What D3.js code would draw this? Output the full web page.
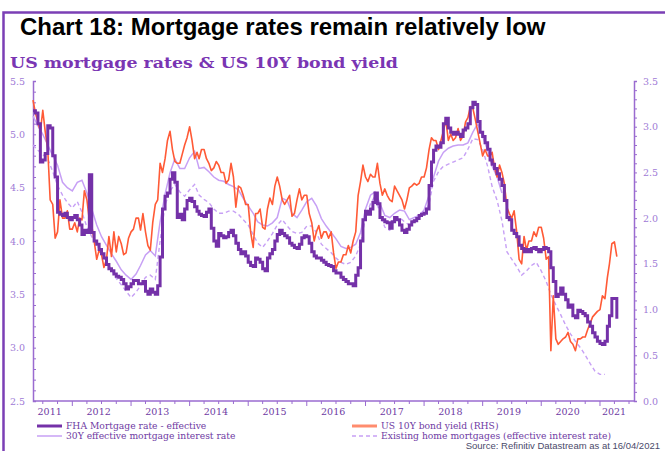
<!DOCTYPE html>
<html>
<head>
<meta charset="utf-8">
<script src="https://cdn.jsdelivr.net/npm/d3@7"></script>
<style>
  html, body { margin: 0; padding: 0; background: #fff; }
  svg { display: block; }
</style>
</head>
<body>
<svg id="chart" width="665" height="451"></svg>
<script>
// FHA effective mortgage rate, semi-monthly from 1 May 2011 (LHS, %)
const fhaRate = [
  5.22, 5.2, 5.1, 4.74, 4.76, 4.82, 5.08, 5.06, 4.8, 4.6, 4.27, 4.25, 4.24, 4.26, 4.22, 4.2,
  4.22, 4.24, 4.2, 4.15, 4.06, 4.1, 4.08, 4.62, 4.08, 4.0, 3.97, 3.92, 3.88, 3.84, 3.78, 3.74, 3.72, 3.69, 3.67, 3.66, 3.64, 3.6, 3.55, 3.57,
  3.6, 3.63, 3.63, 3.6, 3.6, 3.62, 3.53, 3.5, 3.55, 3.52, 3.5, 3.58, 3.85, 4.3, 4.42, 4.45, 4.58, 4.64, 4.55, 4.22, 4.25, 4.2, 4.3, 4.38,
  4.4, 4.37, 4.32, 4.28, 4.25, 4.24, 4.23, 4.27, 4.3, 4.12, 4.0, 3.95, 4.07, 4.05, 4.03, 4.04, 4.08, 4.1, 4.05, 3.98, 3.92, 3.88, 3.9, 3.86,
  3.8, 3.77, 3.76, 3.84, 3.83, 3.8, 3.74, 3.72, 3.84, 3.88, 3.92, 4.0, 4.06, 4.1, 4.07, 4.05, 4.03, 3.98, 3.96, 3.94, 3.93, 3.97, 4.03, 4.05,
  4.04, 3.98, 3.9, 3.86, 3.84, 3.84, 3.82, 3.8, 3.78, 3.77, 3.76, 3.72, 3.7, 3.7, 3.66, 3.64, 3.62, 3.6, 3.6, 3.58, 3.68, 3.75, 4.0, 4.2,
  4.28, 4.25, 4.3, 4.36, 4.45, 4.35, 4.22, 4.2, 4.18, 4.17, 4.12, 4.18, 4.22, 4.2, 4.15, 4.1, 4.08, 4.11, 4.15, 4.18, 4.19, 4.21, 4.24, 4.25,
  4.26, 4.3, 4.52, 4.74, 4.85, 4.89, 4.88, 4.92, 5.1, 5.15, 5.06, 5.02, 5.0, 5.02, 5.0, 4.98, 5.04, 5.06, 5.1, 5.25, 5.3, 5.28, 5.12, 5.02,
  4.98, 4.92, 4.86, 4.76, 4.72, 4.68, 4.63, 4.58, 4.52, 4.38, 4.22, 4.2, 4.1, 4.07, 4.04, 3.96, 3.93, 3.9, 3.92, 3.9, 3.93, 3.94, 3.92, 3.9,
  3.92, 3.94, 3.93, 3.9, 3.75, 3.62, 3.48, 3.5, 3.56, 3.5, 3.45, 3.38, 3.4, 3.3, 3.28, 3.35, 3.34, 3.32, 3.3, 3.24, 3.2, 3.14, 3.1, 3.06,
  3.04, 3.03, 3.06, 3.2, 3.3, 3.46, 3.46, 3.27
];

// 30Y effective mortgage interest rate, monthly from May 2011 (LHS, %)
const mortgage30y = [
  5.17, 5.08, 5.0, 4.9, 4.8, 4.71, 4.55, 4.5, 4.47, 4.55,
  4.57, 4.45, 4.3, 4.15, 4.04, 3.96, 3.88, 3.81, 3.73, 3.68,
  3.64, 3.69, 3.77, 3.87, 3.91, 3.86, 4.18, 4.44, 4.64, 4.77,
  4.68, 4.68, 4.78, 4.84, 4.68, 4.69, 4.65, 4.6, 4.57, 4.56,
  4.53, 4.51, 4.48, 4.4, 4.33, 4.26, 4.18, 4.15, 4.14, 4.17,
  4.22, 4.4, 4.38, 4.26, 4.22, 4.29, 4.37, 4.4, 4.33, 4.21,
  4.14, 4.08, 4.02, 3.95, 3.93, 3.94, 3.97, 4.08, 4.3, 4.43,
  4.46, 4.35, 4.24, 4.22, 4.26, 4.29, 4.28, 4.2, 4.22, 4.24,
  4.29, 4.43, 4.6, 4.75, 4.83, 4.87, 4.89, 4.9, 4.9, 4.92,
  5.02, 5.1, 4.98, 4.85, 4.7, 4.6, 4.45
];

// US 10Y Treasury yield, semi-monthly from 1 May 2011 (RHS, %)
const bondYield = [
  3.29, 3.15, 3.05, 2.95, 3.18, 2.95, 2.75, 2.2, 2.15, 1.78, 1.85, 2.2, 2.0, 2.0, 2.08, 1.88,
  1.88, 1.95, 1.85, 2.0, 1.98, 2.3, 2.2, 1.98, 1.92, 1.75, 1.55, 1.65, 1.6, 1.46, 1.55, 1.8, 1.58, 1.85, 1.63, 1.8, 1.72, 1.6, 1.62, 1.78,
  1.85, 1.88, 2.0, 2.0, 1.87, 2.05, 1.85, 1.7, 1.65, 1.95, 2.15, 2.2, 2.6, 2.5, 2.65, 2.85, 2.95, 2.75, 2.62, 2.6, 2.6, 2.7, 2.8, 2.88,
  3.0, 2.85, 2.65, 2.72, 2.65, 2.75, 2.75, 2.65, 2.6, 2.52, 2.55, 2.62, 2.58, 2.5, 2.5, 2.38, 2.42, 2.6, 2.45, 2.12, 2.35, 2.33, 2.25, 2.15,
  2.15, 1.85, 1.68, 2.05, 2.05, 2.1, 1.9, 1.88, 2.1, 2.22, 2.15, 2.35, 2.45, 2.35, 2.2, 2.15, 2.2, 2.25, 2.02, 2.05, 2.2, 2.32, 2.2, 2.25,
  2.25, 2.05, 1.95, 1.75, 1.85, 1.92, 1.78, 1.85, 1.85, 1.78, 1.85, 1.62, 1.45, 1.52, 1.52, 1.6, 1.6, 1.7, 1.62, 1.75, 1.85, 2.25, 2.4, 2.58,
  2.45, 2.4, 2.48, 2.45, 2.45, 2.6, 2.38, 2.25, 2.32, 2.25, 2.2, 2.18, 2.35, 2.3, 2.25, 2.2, 2.1, 2.2, 2.33, 2.35, 2.38, 2.36, 2.38, 2.45,
  2.45, 2.55, 2.75, 2.88, 2.85, 2.85, 2.75, 2.85, 2.95, 3.08, 2.85, 2.92, 2.85, 2.88, 2.98, 2.85, 2.9, 3.05, 3.1, 3.22, 3.2, 3.08, 2.95, 2.82,
  2.68, 2.75, 2.68, 2.68, 2.72, 2.55, 2.45, 2.58, 2.5, 2.38, 2.12, 2.05, 2.0, 2.08, 1.85, 1.55, 1.5, 1.8, 1.65, 1.75, 1.75, 1.85, 1.8, 1.9,
  1.9, 1.78, 1.55, 1.58, 0.55, 1.15, 0.68, 0.62, 0.65, 0.68, 0.7, 0.75, 0.65, 0.62, 0.55, 0.68, 0.68, 0.7, 0.7, 0.78, 0.85, 0.92, 0.95, 0.98,
  1.0, 1.15, 1.12, 1.35, 1.5, 1.72, 1.74, 1.58
];

// Existing home mortgages, effective interest rate, monthly from May 2011 (LHS, %)
const existingMortgages = [
  4.9, 4.85, 4.81, 4.77, 4.65, 4.52, 4.43, 4.36, 4.31, 4.37,
  4.27, 4.13, 4.04, 3.97, 3.88, 3.81, 3.73, 3.65, 3.59, 3.53,
  3.47, 3.52, 3.58, 3.66, 3.68, 3.64, 4.0, 4.34, 4.47, 4.53,
  4.46, 4.42, 4.48, 4.53, 4.43, 4.39, 4.36, 4.3, 4.26, 4.26,
  4.28, 4.28, 4.25, 4.2, 4.15, 4.06, 3.98, 3.94, 4.0, 4.07,
  4.15, 4.2, 4.14, 4.09, 4.07, 4.08, 4.14, 4.14, 4.08, 3.97,
  3.93, 3.89, 3.84, 3.8, 3.78, 3.8, 3.86, 3.97, 4.22, 4.35,
  4.42, 4.26, 4.13, 4.1, 4.2, 4.22, 4.18, 4.15, 4.2, 4.22,
  4.25, 4.35, 4.56, 4.65, 4.7, 4.72, 4.74, 4.76, 4.78, 4.86,
  4.96, 4.95, 4.86, 4.7, 4.51, 4.38, 4.19, 3.9, 3.83, 3.76,
  3.68, 3.72, 3.77, 3.8, 3.72, 3.62, 3.5, 3.4, 3.31, 3.21,
  3.13, 3.06, 3.0, 2.93, 2.85, 2.78, 2.75, 2.75
];

const leftTickValues = [2.5, 3.0, 3.5, 4.0, 4.5, 5.0, 5.5];
const rightTickValues = [0.0, 0.5, 1.0, 1.5, 2.0, 2.5, 3.0, 3.5];
const yearLabels = [2011, 2012, 2013, 2014, 2015, 2016, 2017, 2018, 2019, 2020, 2021];
const seriesNames = [
  "FHA Mortgage rate - effective",
  "30Y effective mortgage interest rate",
  "US 10Y bond yield (RHS)",
  "Existing home mortgages (effective interest rate)"
];

// date helpers: index -> observation date
const halfMonthDate = i => new Date(2011, 4 + Math.floor(i / 2), i % 2 ? 16 : 1);
const monthDate = i => new Date(2011, 4 + i, 1);

const C = {
  frame: "#7b3fb5",
  axis: "#9a6bd0",
  tickText: "#a07ad6",
  fha: "#7431a8",
  light: "#c7a0f5",
  bond: "#ff5a36",
  legendText: "#6e3aa3"
};

const svg = d3.select("#chart");

// outer frame
svg.append("rect")
  .attr("x", 3.5).attr("y", 12.5)
  .attr("width", 720).attr("height", 520)
  .attr("fill", "none")
  .attr("stroke", C.frame)
  .attr("stroke-width", 2.5);

// titles
svg.append("text")
  .attr("x", 20).attr("y", 35)
  .attr("font-family", "Liberation Sans, Arial, sans-serif")
  .attr("font-weight", "bold")
  .attr("font-size", 24)
  .attr("fill", "#000")
  .text("Chart 18: Mortgage rates remain relatively low");

svg.append("text")
  .attr("x", 10).attr("y", 68)
  .attr("font-family", "DejaVu Serif, serif")
  .attr("font-weight", "bold")
  .attr("font-size", 15)
  .attr("fill", "#7a35b3")
  .attr("textLength", 388)
  .attr("lengthAdjust", "spacingAndGlyphs")
  .text("US mortgage rates & US 10Y bond yield");

// scales
const x = d3.scaleTime()
  .domain([new Date(2011, 4, 1), new Date(2021, 7, 1)])
  .range([33, 634]);
const yL = d3.scaleLinear().domain([2.5, 5.5]).range([401, 81]);
const yR = d3.scaleLinear().domain([0, 3.5]).range([401, 81]);

const fine = (lo, hi) => d3.range(Math.round(lo * 10), Math.round(hi * 10) + 1).map(v => v / 10);
const isMajor = v => Math.abs(v * 2 - Math.round(v * 2)) < 1e-6;

// left axis (ticks inward)
const leftAxis = d3.axisLeft(yL)
  .tickValues(fine(2.5, 5.5))
  .tickSize(-3)
  .tickPadding(8)
  .tickFormat(v => isMajor(v) && leftTickValues.includes(+v.toFixed(1)) ? v.toFixed(1) : "");
const gL = svg.append("g").attr("transform", "translate(33,0)").call(leftAxis);

// right axis (ticks outward)
const rightAxis = d3.axisRight(yR)
  .tickValues(fine(0, 3.5))
  .tickSize(3)
  .tickPadding(6)
  .tickFormat(v => isMajor(v) && rightTickValues.includes(+v.toFixed(1)) ? v.toFixed(1) : "");
const gR = svg.append("g").attr("transform", "translate(634,0)").call(rightAxis);

[gL, gR].forEach(g => {
  g.select(".domain").attr("stroke", C.axis).attr("stroke-width", 1.5);
  g.selectAll(".tick line").attr("stroke", C.axis).attr("stroke-width", 1);
  g.selectAll(".tick text")
    .attr("fill", C.tickText)
    .attr("font-family", "DejaVu Serif, serif")
    .attr("font-size", 9.5);
});

// bottom axis: quarterly ticks, longer at year starts
const quarters = d3.timeMonth.every(3).range(new Date(2011, 6, 1), new Date(2021, 7, 2));
const gX = svg.append("g");
gX.append("line")
  .attr("x1", 33).attr("x2", 634)
  .attr("y1", 401).attr("y2", 401)
  .attr("stroke", C.axis).attr("stroke-width", 1.5);
gX.selectAll("line.q").data(quarters).join("line")
  .attr("class", "q")
  .attr("x1", d => x(d)).attr("x2", d => x(d))
  .attr("y1", 401)
  .attr("y2", d => d.getMonth() === 0 ? 406 : 404)
  .attr("stroke", C.axis).attr("stroke-width", 1);

const [d0, d1] = x.domain();
gX.selectAll("text.year").data(yearLabels).join("text")
  .attr("class", "year")
  .attr("x", yr => {
    const a = Math.max(x(new Date(yr, 0, 1)), x(d0));
    const b = Math.min(x(new Date(yr + 1, 0, 1)), x(d1));
    return (a + b) / 2 - 3;
  })
  .attr("y", 415)
  .attr("text-anchor", "middle")
  .attr("font-family", "DejaVu Serif, serif")
  .attr("font-size", 9.5)
  .attr("fill", C.legendText)
  .text(yr => yr);

// series
const plot = svg.append("g");

const existingLine = d3.line()
  .x((d, i) => x(monthDate(i)))
  .y(d => yL(d));
plot.append("path")
  .datum(existingMortgages)
  .attr("d", existingLine)
  .attr("fill", "none")
  .attr("stroke", C.light)
  .attr("stroke-width", 1.4)
  .attr("stroke-dasharray", "4,3");

const m30Line = d3.line()
  .x((d, i) => x(monthDate(i)))
  .y(d => yL(d));
plot.append("path")
  .datum(mortgage30y)
  .attr("d", m30Line)
  .attr("fill", "none")
  .attr("stroke", C.light)
  .attr("stroke-width", 1.5);

const bondLine = d3.line()
  .x((d, i) => x(halfMonthDate(i)))
  .y(d => yR(d));
plot.append("path")
  .datum(bondYield)
  .attr("d", bondLine)
  .attr("fill", "none")
  .attr("stroke", C.bond)
  .attr("stroke-width", 1.6)
  .attr("stroke-linejoin", "round");

const fhaLine = d3.line()
  .x((d, i) => x(halfMonthDate(i)))
  .y(d => yL(d))
  .curve(d3.curveStepAfter);
plot.append("path")
  .datum(fhaRate)
  .attr("d", fhaLine)
  .attr("fill", "none")
  .attr("stroke", C.fha)
  .attr("stroke-width", 3);

// legend
const legendItems = [
  { name: seriesNames[0], col: 0, row: 0, stroke: C.fha, width: 3, dash: null },
  { name: seriesNames[1], col: 0, row: 1, stroke: C.light, width: 1.5, dash: null },
  { name: seriesNames[2], col: 1, row: 0, stroke: "#ff8c6e", width: 3, dash: null },
  { name: seriesNames[3], col: 1, row: 1, stroke: C.light, width: 1.4, dash: "4,3" }
];
const colX = [37, 352];
const rowY = [426, 436];
const lg = svg.append("g");
legendItems.forEach(it => {
  const x0 = colX[it.col], y0 = rowY[it.row];
  lg.append("line")
    .attr("x1", x0).attr("x2", x0 + 25)
    .attr("y1", y0).attr("y2", y0)
    .attr("stroke", it.stroke)
    .attr("stroke-width", it.width)
    .attr("stroke-dasharray", it.dash);
  lg.append("text")
    .attr("x", x0 + 29).attr("y", y0 + 3)
    .attr("font-family", "DejaVu Serif, serif")
    .attr("font-size", 9.2)
    .attr("fill", C.legendText)
    .text(it.name);
});

// source line
svg.append("text")
  .attr("x", 660).attr("y", 449)
  .attr("text-anchor", "end")
  .attr("font-family", "Liberation Sans, Arial, sans-serif")
  .attr("font-size", 9.5)
  .attr("fill", "#4a4a6a")
  .text("Source: Refinitiv Datastream as at 16/04/2021");
</script>
</body>
</html>
